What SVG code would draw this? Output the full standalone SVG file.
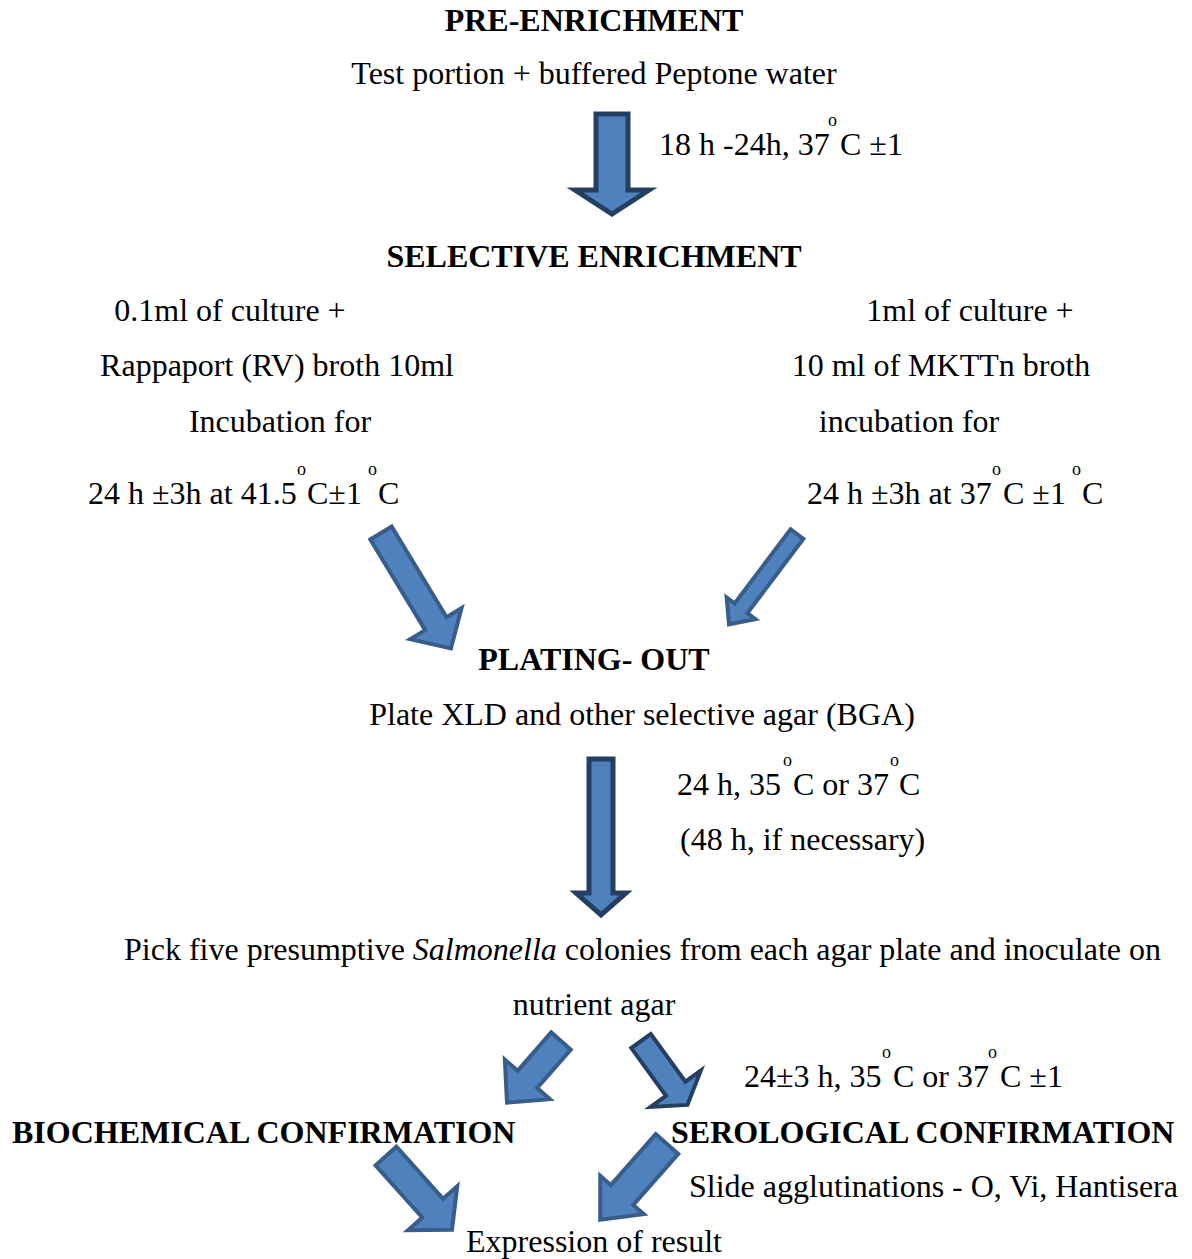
<svg xmlns="http://www.w3.org/2000/svg" width="1192" height="1259" viewBox="0 0 1192 1259">
<style>
text{font-family:"Liberation Serif","Times New Roman",serif;font-size:32px;fill:#000}
.b{font-weight:bold}
.c{text-anchor:middle}
.sup{font-size:18px}
.av{fill:#4f81bd;stroke:#243f60;stroke-width:5;stroke-linejoin:miter}
.ad{fill:#4f81bd;stroke:#385d8a;stroke-width:4;stroke-linejoin:miter}
.adk{fill:#4f81bd;stroke:#243f60;stroke-width:4;stroke-linejoin:miter}
</style>
<rect width="1192" height="1259" fill="#fff"/>
<g id="connectors">
<polygon class="av" points="596,114 628,114 628,190 649,190 612,214 575,190 596,190"/>
<polygon class="ad" transform="translate(381,533) rotate(58.8)" points="0,-12.5 106,-12.5 106,-30 135,0 106,30 106,12.5 0,12.5"/>
<polygon class="ad" transform="translate(797,534) rotate(127)" points="0,-8 93,-8 93,-18 113,0 93,18 93,8 0,8"/>
<polygon class="av" points="589,759 613,759 613,893 626,893 601,915 576,893 589,893"/>
<polygon class="ad" transform="translate(561,1041) rotate(131.2)" points="0,-13 51,-13 51,-30 82,0 51,30 51,13 0,13"/>
<polygon class="adk" transform="translate(641,1041) rotate(54)" points="0,-12 59,-12 59,-31 79,0 59,31 59,12 0,12"/>
<polygon class="ad" transform="translate(386,1156) rotate(48.2)" points="0,-14 70,-14 70,-33 99,0 70,33 70,14 0,14"/>
<polygon class="ad" transform="translate(667,1144) rotate(131.4)" points="0,-15 68,-15 68,-29 101,0 68,29 68,15 0,15"/>
</g>
<g id="pre-enrichment">
<text class="b c" x="594" y="31">PRE-ENRICHMENT</text>
<text class="c" x="594" y="84">Test portion + buffered Peptone water</text>
<text x="659" y="155">18 h -24h, 37<tspan x="840">C ±1</tspan></text>
<text class="sup" x="828" y="126">o</text>
</g>
<g id="selective-enrichment">
<text class="b c" x="594" y="267">SELECTIVE ENRICHMENT</text>
</g>
<g id="rv-broth">
<text class="c" x="230" y="321">0.1ml of culture +</text>
<text class="c" x="277" y="376">Rappaport (RV) broth 10ml</text>
<text class="c" x="280" y="432">Incubation for</text>
<text x="88" y="504">24 h ±3h at 41.5<tspan x="307">C±1</tspan><tspan x="378">C</tspan></text>
<text class="sup" x="297" y="475">o</text>
<text class="sup" x="368" y="475">o</text>
</g>
<g id="mkttn-broth">
<text class="c" x="970" y="321">1ml of culture +</text>
<text class="c" x="941" y="376">10 ml of MKTTn broth</text>
<text class="c" x="909" y="432">incubation for</text>
<text x="807" y="504">24 h ±3h at 37<tspan x="1003">C ±1</tspan><tspan x="1082">C</tspan></text>
<text class="sup" x="992" y="475">o</text>
<text class="sup" x="1072" y="475">o</text>
</g>
<g id="plating-out">
<text class="b c" x="594" y="670">PLATING- OUT</text>
<text class="c" x="642" y="725">Plate XLD and other selective agar (BGA)</text>
<text x="677" y="795">24 h, 35<tspan x="793">C or 37</tspan><tspan x="899">C</tspan></text>
<text class="sup" x="783" y="766">o</text>
<text class="sup" x="890" y="766">o</text>
<text x="680" y="850">(48 h, if necessary)</text>
</g>
<g id="pick-colonies">
<text x="124" y="960">Pick five presumptive <tspan font-style="italic">Salmonella</tspan> colonies from each agar plate and inoculate on</text>
<text class="c" x="594" y="1015">nutrient agar</text>
<text x="744" y="1087">24±3 h, 35<tspan x="893">C or 37</tspan><tspan x="1000">C ±1</tspan></text>
<text class="sup" x="882" y="1058">o</text>
<text class="sup" x="988" y="1058">o</text>
</g>
<g id="biochemical">
<text class="b" x="12" y="1143">BIOCHEMICAL CONFIRMATION</text>
</g>
<g id="serological">
<text class="b" x="671" y="1143">SEROLOGICAL CONFIRMATION</text>
<text x="689" y="1197">Slide agglutinations - O, Vi, Hantisera</text>
</g>
<g id="expression">
<text class="c" x="594" y="1252">Expression of result</text>
</g>
</svg>
